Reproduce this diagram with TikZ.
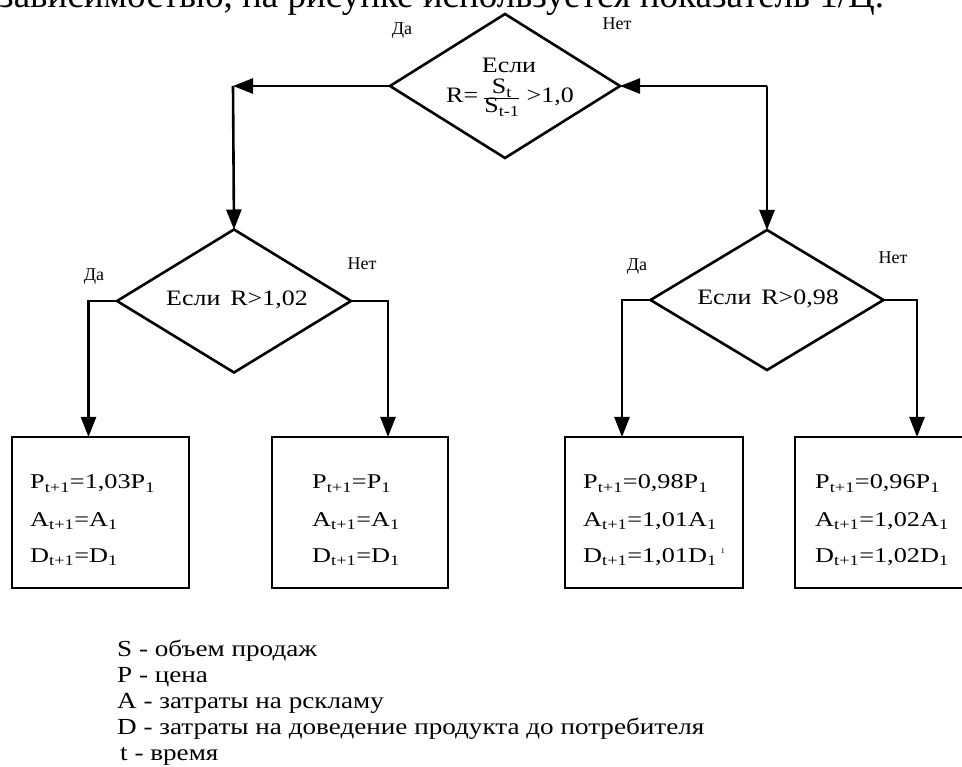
\documentclass[tikz,border=0pt]{standalone}
\usepackage{fontspec}
\usepackage{graphicx}
\setmainfont{Liberation Serif}
\newfontfamily\widefont[FakeStretch=1.18]{Liberation Serif}
\newfontfamily\boxfont[FakeStretch=1.25]{Liberation Serif}
\usetikzlibrary{shapes.geometric,arrows.meta,calc}
\begin{document}
\begin{tikzpicture}[x=1pt,y=-1pt,
  arr/.style={line width=2.6pt,-{Triangle[length=20pt,width=15pt]}},
  dia/.style={diamond,draw,line width=2.6pt,inner sep=0pt,outer sep=0pt},
  res/.style={rectangle,draw,line width=2.6pt,inner sep=0pt,outer sep=0pt,minimum height=151pt},
  yn/.style={anchor=base,inner sep=0pt,font=\fontsize{18}{20}\selectfont},
  cond/.style={anchor=base,inner sep=0pt,font=\widefont\fontsize{22}{26}\selectfont},
  frm/.style={anchor=base west,inner sep=0pt,font=\boxfont\fontsize{21}{24}\selectfont},
  leg/.style={anchor=base west,inner sep=0pt,font=\widefont\fontsize{23}{26}\selectfont}]
\useasboundingbox (0,0) rectangle (962,767);
\clip (0,0) rectangle (962,767);

% heading text (cut at the top)
\node[anchor=base west,inner sep=0pt,font=\fontsize{37}{40}\selectfont] (head) at (-1,8)
  {зависимостью, на рисунке используется показатель 1/Ц.};

% decisions
\node[dia,minimum width=230pt,minimum height=144pt] (d0) at (505,86) {};
\node[dia,minimum width=234pt,minimum height=143pt] (d1) at (234,301) {};
\node[dia,minimum width=233pt,minimum height=140pt] (d2) at (767,300) {};

\node[cond] (t0a) at (509,73) {Если};
\node[cond] (t0b) at (510,103) {R=\hspace{5pt}$\frac{\mbox{S\textsubscript{t}}}{\mbox{S\textsubscript{t-1}}}$\hspace{6pt}>1,0};
\node[cond] (t1) at (237,306) {Если\hspace{0.45em}R>1,02};
\node[cond] (t2) at (768,305) {Если\hspace{0.45em}R>0,98};

% yes / no labels
\node[yn] (y0) at (402,35) {Да};
\node[yn] (n0) at (617,30) {Нет};
\node[yn] (y1) at (94,281) {Да};
\node[yn] (n1) at (362,270) {Нет};
\node[yn] (y2) at (637,271) {Да};
\node[yn] (n2) at (893,264) {Нет};

% result boxes
\node[res,minimum width=177pt] (b1) at (100.5,512.5) {};
\node[res,minimum width=176pt] (b2) at (360,512.5) {};
\node[res,minimum width=178pt] (b3) at (654,512.5) {};
\node[res,minimum width=178pt] (b4) at (884,512.5) {};

\node[frm] (b1p) at (30,489) {P\textsubscript{t+1}=1,03P\textsubscript{1}};
\node[frm] (b1a) at (30,526) {A\textsubscript{t+1}=A\textsubscript{1}};
\node[frm] (b1d) at (30,562) {D\textsubscript{t+1}=D\textsubscript{1}};
\node[frm] (b2p) at (312,489) {P\textsubscript{t+1}=P\textsubscript{1}};
\node[frm] (b2a) at (312,526) {A\textsubscript{t+1}=A\textsubscript{1}};
\node[frm] (b2d) at (312,562) {D\textsubscript{t+1}=D\textsubscript{1}};
\node[frm] (b3p) at (583,489) {P\textsubscript{t+1}=0,98P\textsubscript{1}};
\node[frm] (b3a) at (583,526) {A\textsubscript{t+1}=1,01A\textsubscript{1}};
\node[frm] (b3d) at (583,562) {D\textsubscript{t+1}=1,01D\textsubscript{1}\hspace{4pt}\raisebox{9pt}{\fontsize{7}{7}\selectfont 1}};
\node[frm] (b4p) at (815,489) {P\textsubscript{t+1}=0,96P\textsubscript{1}};
\node[frm] (b4a) at (815,526) {A\textsubscript{t+1}=1,02A\textsubscript{1}};
\node[frm] (b4d) at (815,562) {D\textsubscript{t+1}=1,02D\textsubscript{1}};

% connectors
\coordinate (cL) at (233,86);
\coordinate (cR) at (767,86);
\draw[arr] (d0.west) -- (cL);
\draw[arr] (cL) -- (d1.north);
\draw[arr] (cR) -- (d0.east);
\draw[arr] (cR) -- (d2.north);
\draw[arr] (d1.west) -| ([xshift=-12pt]b1.north);
\draw[arr] (d1.east) -| ([xshift=28pt]b2.north);
\draw[arr] (d2.west) -| ([xshift=-32pt]b3.north);
\draw[arr] (d2.east) -| ([xshift=33pt]b4.north);

% legend
\node[leg] (l1) at (117,656) {S - объем продаж};
\node[leg] (l2) at (117,682) {P - цена};
\node[leg] (l3) at (117,708) {A - затраты на рскламу};
\node[leg] (l4) at (117,734) {D - затраты на доведение продукта до потребителя};
\node[leg] (l5) at (120,760) {t - время};
\end{tikzpicture}
\end{document}
